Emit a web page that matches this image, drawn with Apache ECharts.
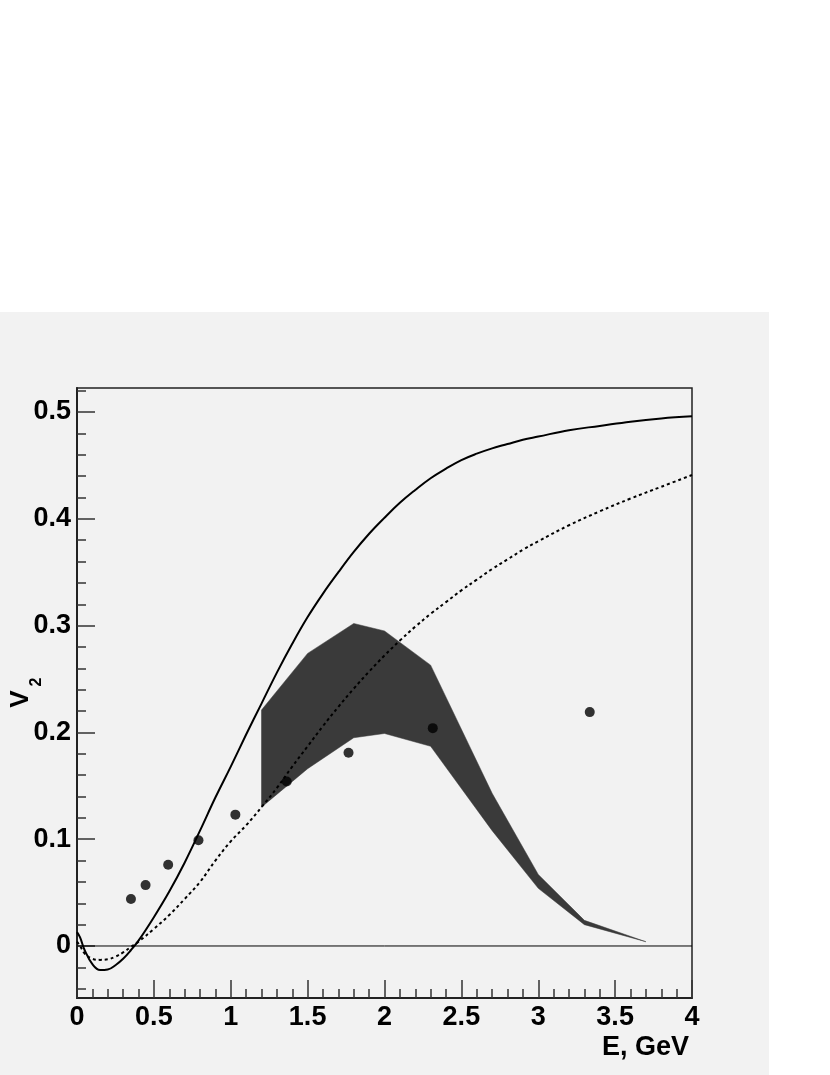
<!DOCTYPE html>
<html><head><meta charset="utf-8">
<script src="https://cdn.jsdelivr.net/npm/echarts@6/dist/echarts.min.js"></script>
<style>html,body{margin:0;padding:0;background:#fff}#c{width:830px;height:1075px}</style>
</head><body><div id="c"></div>
<script>
// Curves
const curveX  = [0,0.02,0.05,0.1,0.15,0.2,0.25,0.3,0.35,0.4,0.5,0.6,0.7,0.8,0.9,1.0,1.1,1.2,1.3,1.4,1.5,1.6,1.7,1.8,1.9,2.0,2.1,2.2,2.3,2.4,2.5,2.6,2.7,2.8,2.9,3.0,3.2,3.4,3.6,3.8,4.0];
const solidY  = [0.013,0.008,-0.004,-0.017,-0.0225,-0.022,-0.018,-0.012,-0.004,0.005,0.027,0.051,0.078,0.108,0.139,0.168,0.198,0.227,0.256,0.283,0.308,0.330,0.350,0.369,0.386,0.401,0.415,0.427,0.438,0.447,0.455,0.461,0.466,0.470,0.474,0.477,0.483,0.487,0.491,0.494,0.496];
const dottedY = [0.004,0.0,-0.007,-0.012,-0.013,-0.0125,-0.010,-0.006,-0.001,0.004,0.016,0.029,0.044,0.060,0.080,0.098,0.113,0.130,0.148,0.168,0.187,0.206,0.224,0.241,0.257,0.272,0.286,0.299,0.311,0.322,0.333,0.343,0.353,0.362,0.371,0.379,0.394,0.407,0.419,0.430,0.441];
// Data points
const pointsX = [0.351,0.446,0.593,0.79,1.03,1.364,1.766,2.314,3.335];
const pointsY = [0.044,0.057,0.076,0.099,0.123,0.154,0.181,0.204,0.219];
// Band
const bandX     = [1.2,1.5,1.8,2.0,2.3,2.7,3.0,3.3,3.7];
const bandUpper = [0.221,0.274,0.302,0.295,0.263,0.143,0.067,0.024,0.004];
const bandLower = [0.130,0.166,0.195,0.199,0.187,0.108,0.054,0.020,0.004];
// Ticks
const yMajor = [0,0.1,0.2,0.3,0.4,0.5];
const yMinor = [-0.04,-0.02,0.02,0.04,0.06,0.08,0.12,0.14,0.16,0.18,0.22,0.24,0.26,0.28,0.32,0.34,0.36,0.38,0.42,0.44,0.46,0.48,0.52];

const FONT = "'Liberation Sans', Arial, Helvetica, sans-serif";
const zip = (a, b) => a.map((v, i) => [v, b[i]]);

const chart = echarts.init(document.getElementById('c'), null, {renderer: 'canvas'});
const YMIN = -0.0487, YMAX = 0.5225;
const labelStyle = {fontFamily: FONT, fontWeight: 'bold', fontSize: 27, color: '#000'};

chart.setOption({
  backgroundColor: '#fff',
  animation: false,
  graphic: [
    {type: 'rect', z: -100, silent: true, shape: {x: 0, y: 312, width: 769, height: 763}, style: {fill: '#f2f2f2'}},
    {type: 'text', z: 100, x: 689, y: 1034, style: {text: 'E, GeV', align: 'right', verticalAlign: 'top', font: "bold 27px " + FONT, fill: '#000'}},
    {type: 'text', z: 100, x: 21, y: 699, rotation: Math.PI / 2, style: {text: 'V', align: 'center', verticalAlign: 'middle', font: "bold 26px " + FONT, fill: '#000'}},
    {type: 'text', z: 100, x: 37, y: 682, rotation: Math.PI / 2, style: {text: '2', align: 'center', verticalAlign: 'middle', font: "bold 16px " + FONT, fill: '#000'}}
  ],
  grid: {left: 77, right: 138, top: 388, bottom: 77, show: true, borderColor: '#222', borderWidth: 1.5, backgroundColor: 'transparent', containLabel: false},
  xAxis: {
    type: 'value', min: 0, max: 4, interval: 0.5,
    axisLine: {show: true, onZero: false, lineStyle: {color: '#222', width: 2}},
    axisTick: {show: true, inside: true, length: 18, lineStyle: {color: '#333', width: 1.5}},
    minorTick: {show: true, splitNumber: 5, length: 9, lineStyle: {color: '#333', width: 1.5}},
    splitLine: {show: false},
    axisLabel: Object.assign({margin: 6, formatter: v => String(v)}, labelStyle)
  },
  yAxis: [{
    type: 'value', min: YMIN, max: YMAX,
    axisLine: {show: true, onZero: false, lineStyle: {color: '#222', width: 2}},
    axisTick: {show: true, inside: true, length: 18, customValues: yMajor, lineStyle: {color: '#333', width: 1.5}},
    splitLine: {show: false},
    axisLabel: Object.assign({margin: 6, customValues: yMajor, formatter: v => String(v)}, labelStyle)
  }, {
    type: 'value', min: YMIN, max: YMAX, position: 'left', offset: 0,
    axisLine: {show: false},
    axisTick: {show: true, inside: true, length: 9, customValues: yMinor, lineStyle: {color: '#333', width: 1.5}},
    splitLine: {show: false},
    axisLabel: {show: false}
  }],
  series: [
    {
      type: 'custom', z: 1, silent: true,
      data: bandX.map((x, i) => [x, bandLower[i], bandUpper[i]]),
      renderItem: function (params, api) {
        if (params.dataIndex !== 0) return null;
        const pts = [];
        for (let i = 0; i < bandX.length; i++) pts.push(api.coord([bandX[i], bandUpper[i]]));
        for (let i = bandX.length - 1; i >= 0; i--) pts.push(api.coord([bandX[i], bandLower[i]]));
        return {type: 'polygon', shape: {points: pts}, style: {fill: '#3a3a3a', stroke: '#3a3a3a', lineWidth: 0.5}};
      },
      encode: {x: 0, y: [1, 2]}
    },
    {
      type: 'line', z: 2, silent: true, symbol: 'none',
      data: [[0, 0], [4, 0]],
      lineStyle: {color: '#000', width: 1}
    },
    {
      type: 'line', z: 3, silent: true, symbol: 'none', smooth: 0.4,
      data: zip(curveX, dottedY),
      lineStyle: {color: '#000', width: 2, type: [3, 3]}
    },
    {
      type: 'line', z: 4, silent: true, symbol: 'none', smooth: 0.4,
      data: zip(curveX, solidY),
      lineStyle: {color: '#000', width: 2}
    },
    {
      type: 'scatter', z: 5, silent: true, symbol: 'circle', symbolSize: 10,
      data: zip(pointsX, pointsY),
      itemStyle: {color: '#000'}
    }
  ]
});
</script></body></html>
